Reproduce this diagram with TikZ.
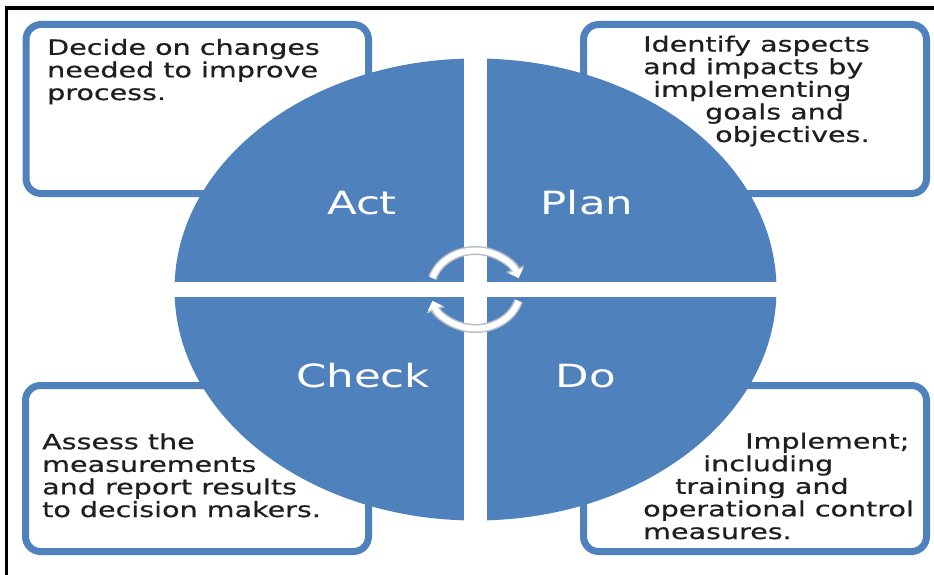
\documentclass[tikz,border=0pt]{standalone}
\usepackage{fontspec}
\usepackage{tikz}
\usetikzlibrary{arrows.meta, positioning}
\newfontfamily\boxfont[FakeStretch=1.36]{DejaVu Sans}
\newfontfamily\noteFont[FakeStretch=1.36, FakeBold=0.6]{DejaVu Sans}
\definecolor{pdcaBlue}{rgb}{0.31, 0.506, 0.741}
\definecolor{textGray}{rgb}{0.12, 0.12, 0.12}
\definecolor{ringGray}{rgb}{0.72, 0.74, 0.78}

\begin{document}
\begin{tikzpicture}[x=1pt, y=-1pt,
		frame/.style={line width=3.5pt, black},
		noteBox/.style={draw=pdcaBlue, line width=7pt, rounded corners=15pt, fill=white},
		noteText/.style={anchor=base west, inner sep=0pt, align=left, text=textGray, font=\noteFont\fontsize{21}{22.6}\selectfont},
		phase/.style={anchor=base, inner sep=0pt, text=white, font=\boxfont\fontsize{32}{38}\selectfont},
		cycBorder/.style={draw=ringGray, line width=9pt, -{Triangle[width=19pt,length=10pt]}},
		cycArrow/.style={draw=white, line width=6pt, -{Triangle[width=15pt,length=8pt]}}]
		
		\useasboundingbox (0,0) rectangle (934,575);
		\draw [frame] (6.5,575) -- (6.5,8) -- (934,8);
		
		\coordinate (hub) at (475.5,289.5);
		
		\draw [noteBox] (26,24.5) rectangle (368.5,193.5);
		\draw [noteBox] (583.5,24.5) rectangle (926.5,193.5);
		\draw [noteBox] (25.5,385.5) rectangle (368.5,551.5);
		\draw [noteBox] (583.5,385.5) rectangle (926.5,551.5);
		
		\fill [pdcaBlue] (hub) ellipse [x radius=301, y radius=231];
		\fill [white] (464,55) rectangle (487,525);
		\fill [white] (170,282) rectangle (781,297);
		
		% turning arrows in the middle
		\draw [cycBorder] (hub) ++(197:45 and 39) arc [start angle=197, end angle=343, x radius=45, y radius=39];
		\draw [cycArrow] (hub) ++(197:45 and 39) arc [start angle=197, end angle=343, x radius=45, y radius=39];
		\draw [cycBorder] (hub) ++(17:45 and 39) arc [start angle=17, end angle=163, x radius=45, y radius=39];
		\draw [cycArrow] (hub) ++(17:45 and 39) arc [start angle=17, end angle=163, x radius=45, y radius=39];
		
		\node [phase] (act) at (362,214) {Act};
		\node [phase] (plan) at (587,214) {Plan};
		\node [phase] (check) at (363,387) {Check};
		\node [phase] (do) at (586,387) {Do};
		
		% base anchor sits on the last line
		\node [noteText] (actNote) at (47,100) {Decide on changes\\needed to improve\\process.};
		\node [noteText] (planNote) at (643,142) {Identify aspects\\and impacts by\\\hspace*{10pt}implementing\\\hspace*{62pt}goals and\\\hspace*{72pt}objectives.};
		\node [noteText] (checkNote) at (42,517) {Assess the\\measurements\\and report results\\to decision makers.};
		\node [noteText] (doNote) at (643,539) {\hspace*{102pt}Implement;\\\hspace*{60pt}including\\\hspace*{32pt}training and\\operational control\\measures.};
	\end{tikzpicture}
\end{document}
